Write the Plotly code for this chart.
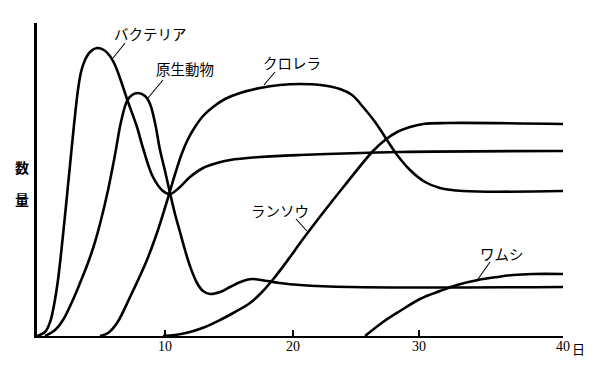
import plotly.graph_objects as go

# ---- data (x: day position along axis, y: relative amount) ----
bacteria_day = [0, 0.63, 1.02, 1.33, 1.64, 1.95, 2.27, 2.58, 2.89, 3.20, 3.44, 3.75, 4.14, 4.69, 5.23, 5.70, 6.09, 6.48, 7.03, 7.81, 8.28, 9.06, 9.84, 10.39, 11.17, 11.95, 12.97, 14.06, 15.08, 17.42, 20.55, 28.36, 41.09]
bacteria_val = [0, 4, 14, 31, 56, 91, 131, 171, 211, 246, 264, 276, 284, 288, 286, 280, 271, 258, 237, 209, 188, 159, 145, 142, 149, 159, 168, 173, 176, 179, 181, 184, 185]

protozoa_day = [0.63, 1.41, 2.03, 2.73, 3.36, 3.98, 4.53, 5.0, 5.55, 6.09, 6.56, 7.03, 7.42, 7.89, 8.44, 8.83, 9.22, 9.61, 10.0, 10.39, 10.78, 11.17, 11.56, 11.95, 12.5, 12.97, 13.52, 14.30, 15.08, 16.09, 16.80, 17.97, 18.98, 20.55, 24.45, 41.09]
protozoa_val = [0, 6, 16, 34, 53, 73, 94, 116, 146, 181, 214, 235, 241, 243, 240, 232, 213, 186, 165, 143, 122, 104, 86, 70, 53, 45, 42, 44, 49, 55, 57, 55, 53, 51, 49, 49]

chlorella_day = [4.92, 5.55, 6.25, 7.27, 8.59, 9.45, 9.92, 10.39, 10.86, 11.33, 11.80, 12.34, 12.97, 13.75, 14.69, 15.86, 17.42, 18.98, 20.55, 22.11, 23.67, 24.61, 25.47, 26.41, 27.34, 28.13, 29.14, 30.31, 31.48, 33.28, 41.09]
chlorella_val = [0, 3, 13, 39, 76, 106, 125, 145, 165, 183, 197, 209, 220, 229, 237, 243, 248, 251, 252, 251, 247, 241, 229, 214, 196, 181, 166, 154, 148, 145, 145]

cyano_day = [9.84, 10.78, 11.95, 13.13, 14.30, 15.47, 16.64, 17.58, 18.59, 19.77, 20.55, 22.27, 24.06, 26.25, 27.19, 28.13, 29.14, 30.16, 32.03, 41.09]
cyano_val = [0, 1, 4, 9, 16, 24, 33, 44, 59, 79, 93, 122, 151, 185, 196, 204, 209, 212, 213, 212]

rotifer_day = [25.63, 27.03, 28.36, 29.92, 31.48, 32.81, 34.45, 35.94, 37.19, 38.75, 41.09]
rotifer_val = [0, 14, 25, 37, 45, 51, 56, 59, 61, 62, 62]

# labels: text, text position, leader line (start -> end)
label_text = ["バクテリア", "原生動物", "クロレラ", "ランソウ", "ワムシ"]
label_day = [8.83, 11.56, 19.92, 18.98, 36.33]
label_val = [303, 268, 274, 126, 83]
leader_day = [[6.88, 5.94], [9.84, 8.67], [18.59, 17.73], [20.23, 21.09], [35.39, 34.45]]
leader_val = [[293, 278], [256, 238], [264, 251], [117, 105], [74, 57]]

tick_days = [10, 20, 29.84, 41.09]
tick_text = ["10", "20", "30", "40"]
x_unit = "日"
y_title = ["数", "量"]
y_title_val = [169, 137]

X_MAX = 41.09
Y_MAX = 313

fig = go.Figure()
LW = 2.6
for d, v in [(bacteria_day, bacteria_val), (protozoa_day, protozoa_val),
             (chlorella_day, chlorella_val), (cyano_day, cyano_val),
             (rotifer_day, rotifer_val)]:
    fig.add_trace(go.Scatter(x=d, y=v, mode="lines",
                             line=dict(color="black", width=LW, shape="spline", smoothing=1.0),
                             hoverinfo="skip", showlegend=False))

for ld, lv in zip(leader_day, leader_val):
    fig.add_trace(go.Scatter(x=ld, y=lv, mode="lines",
                             line=dict(color="black", width=1.1),
                             hoverinfo="skip", showlegend=False))

jp_font = dict(family="Noto Sans CJK JP", size=14.5, color="black")
for t, d, v in zip(label_text, label_day, label_val):
    fig.add_annotation(x=d, y=v, text=t, showarrow=False, font=jp_font,
                       xanchor="center", yanchor="middle")

for t, v in zip(y_title, y_title_val):
    fig.add_annotation(x=-15 / 526, xref="paper", y=v, yref="y", text="<b>" + t + "</b>",
                       showarrow=False, font=dict(family="Noto Sans CJK JP", size=14, color="black"),
                       xanchor="center", yanchor="middle")

fig.add_annotation(x=X_MAX, y=0, text=x_unit, showarrow=False, xanchor="left", yanchor="top",
                   xshift=7, yshift=-1,
                   font=dict(family="Noto Sans CJK JP", size=13, color="black"))

fig.update_layout(
    width=600, height=369,
    margin=dict(l=37, r=37, t=23, b=33),
    paper_bgcolor="white", plot_bgcolor="white",
    xaxis=dict(range=[0, X_MAX], showgrid=False, zeroline=False,
               showline=True, linecolor="black", linewidth=2,
               ticks="inside", ticklen=6, tickwidth=1.5, tickcolor="black",
               tickvals=tick_days, ticktext=tick_text, ticklabelstandoff=-4,
               tickfont=dict(family="Liberation Serif", size=14, color="black")),
    yaxis=dict(range=[0, Y_MAX], showgrid=False, zeroline=False,
               showline=True, linecolor="black", linewidth=2.5,
               ticks="", showticklabels=False),
)

fig.write_html("out.html")
